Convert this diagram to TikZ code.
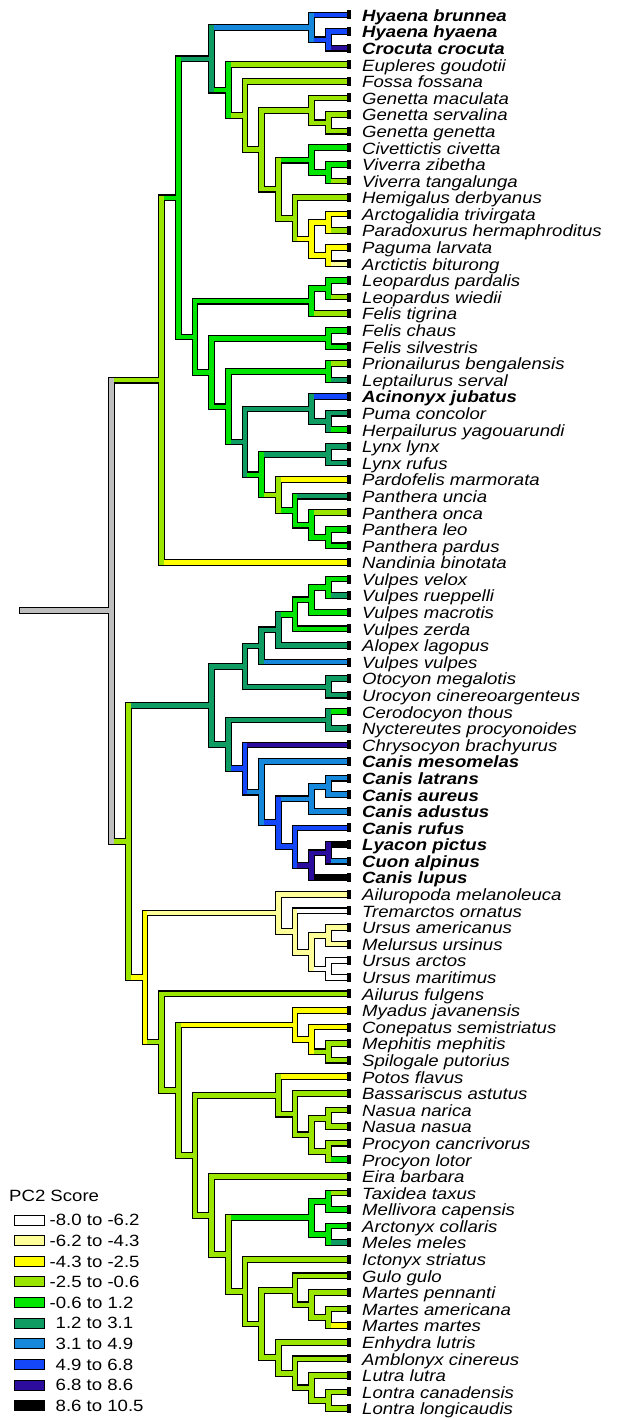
\documentclass[tikz,border=0pt]{standalone}
\usepackage{fontspec}
\setmainfont{Liberation Sans}
\usepackage{graphicx}
\usetikzlibrary{calc}
\definecolor{cW}{HTML}{FFFFFF}
\definecolor{cPY}{HTML}{FFFF99}
\definecolor{cY}{HTML}{FFFF00}
\definecolor{cYG}{HTML}{9AE600}
\definecolor{cG}{HTML}{00E600}
\definecolor{cDG}{HTML}{0E9C63}
\definecolor{cLB}{HTML}{1588DB}
\definecolor{cB}{HTML}{1446FA}
\definecolor{cDP}{HTML}{2C0C9C}
\definecolor{cK}{HTML}{000000}
\definecolor{cGR}{HTML}{BEBEBE}
\newcommand\nd[4]{\coordinate (lvl) at ({111.7+16.67*#2},0); \coordinate (#1m) at ($(#3)!0.5!(#4)$); \coordinate (#1) at (lvl |- #1m);}
\newcommand\E[6]{}
\newcommand\TreeList{%
\E{R}{F}{C}{cGR}{cYG}{cYG}
\E{F}{Fa}{t34}{cYG}{cG}{cY}
\E{Fa}{Fb}{Fel}{cG}{cDG}{cG}
\E{Fb}{Hy}{Vv}{cDG}{cLB}{cG}
\E{Hy}{t1}{Hy2}{cLB}{cB}{cB}
\E{Hy2}{t2}{t3}{cB}{cB}{cDP}
\E{Vv}{t4}{Vv2}{cG}{cYG}{cYG}
\E{Vv2}{t5}{Vv3}{cYG}{cYG}{cYG}
\E{Vv3}{Gen}{Vv4}{cYG}{cYG}{cYG}
\E{Gen}{t6}{Gen2}{cYG}{cYG}{cYG}
\E{Gen2}{t7}{t8}{cYG}{cYG}{cYG}
\E{Vv4}{Civ}{Par}{cYG}{cG}{cYG}
\E{Civ}{t9}{Civ2}{cG}{cG}{cG}
\E{Civ2}{t10}{t11}{cG}{cG}{cYG}
\E{Par}{t12}{Par2}{cYG}{cYG}{cY}
\E{Par2}{ParA}{ParB}{cY}{cY}{cY}
\E{ParA}{t13}{t14}{cY}{cY}{cYG}
\E{ParB}{t15}{t16}{cY}{cY}{cPY}
\E{Fel}{FelA}{Fel2}{cG}{cG}{cG}
\E{FelA}{Leo}{t19}{cG}{cG}{cYG}
\E{Leo}{t17}{t18}{cG}{cG}{cYG}
\E{Fel2}{FelC}{Fel4}{cG}{cG}{cG}
\E{FelC}{t20}{t21}{cG}{cG}{cG}
\E{Fel4}{Pri}{Fel5}{cG}{cG}{cDG}
\E{Pri}{t22}{t23}{cG}{cYG}{cDG}
\E{Fel5}{Aci}{Fel6}{cDG}{cDG}{cG}
\E{Aci}{t24}{Aci2}{cDG}{cB}{cDG}
\E{Aci2}{t25}{t26}{cDG}{cDG}{cG}
\E{Fel6}{Lyn}{Pan}{cG}{cDG}{cYG}
\E{Lyn}{t27}{t28}{cDG}{cDG}{cDG}
\E{Pan}{t29}{Pan2}{cYG}{cY}{cG}
\E{Pan2}{t30}{Pan3}{cG}{cDG}{cG}
\E{Pan3}{t31}{Pan4}{cG}{cYG}{cG}
\E{Pan4}{t32}{t33}{cG}{cG}{cG}
\E{C}{Can}{Arc}{cYG}{cDG}{cY}
\E{Can}{Can1}{Can5}{cDG}{cDG}{cDG}
\E{Can1}{Vul1}{Oto}{cDG}{cDG}{cDG}
\E{Vul1}{Vul2}{t40}{cDG}{cDG}{cLB}
\E{Vul2}{Vul3}{t39}{cDG}{cG}{cDG}
\E{Vul3}{Vul4}{t38}{cG}{cG}{cG}
\E{Vul4}{Vul5}{t37}{cG}{cG}{cG}
\E{Vul5}{t35}{t36}{cG}{cG}{cDG}
\E{Oto}{t41}{t42}{cDG}{cDG}{cDG}
\E{Can5}{Cer}{Can6}{cDG}{cDG}{cB}
\E{Cer}{t43}{t44}{cDG}{cG}{cDG}
\E{Can6}{t45}{Can7}{cB}{cDP}{cLB}
\E{Can7}{t46}{Can8}{cLB}{cLB}{cB}
\E{Can8}{Can9}{Can10}{cB}{cLB}{cB}
\E{Can9}{Can9a}{t49}{cLB}{cLB}{cLB}
\E{Can9a}{t47}{t48}{cLB}{cLB}{cLB}
\E{Can10}{t50}{Can11}{cB}{cB}{cDP}
\E{Can11}{Can12}{t53}{cDP}{cDP}{cK}
\E{Can12}{t51}{t52}{cDP}{cK}{cLB}
\E{Arc}{Urs}{Arc2}{cY}{cPY}{cYG}
\E{Urs}{t54}{Urs2}{cPY}{cPY}{cPY}
\E{Urs2}{t55}{Urs3}{cPY}{cW}{cPY}
\E{Urs3}{Urs4}{Urs5}{cPY}{cPY}{cW}
\E{Urs4}{t56}{t57}{cPY}{cPY}{cPY}
\E{Urs5}{t58}{t59}{cW}{cW}{cW}
\E{Arc2}{t60}{Arc3}{cYG}{cYG}{cYG}
\E{Arc3}{Mep}{Arc4}{cYG}{cY}{cYG}
\E{Mep}{t61}{Mep2}{cY}{cY}{cY}
\E{Mep2}{t62}{Mep3}{cY}{cY}{cYG}
\E{Mep3}{t63}{t64}{cYG}{cYG}{cYG}
\E{Arc4}{Pro}{Mus}{cYG}{cYG}{cYG}
\E{Pro}{t65}{Pro2}{cYG}{cY}{cYG}
\E{Pro2}{t66}{Pro3}{cYG}{cYG}{cYG}
\E{Pro3}{Pro4}{Pro5}{cYG}{cYG}{cYG}
\E{Pro4}{t67}{t68}{cYG}{cYG}{cYG}
\E{Pro5}{t69}{t70}{cYG}{cYG}{cG}
\E{Mus}{t71}{Mus2}{cYG}{cYG}{cYG}
\E{Mus2}{Bad}{Mus3}{cYG}{cG}{cYG}
\E{Bad}{Bad1}{Bad2}{cG}{cG}{cG}
\E{Bad1}{t72}{t73}{cG}{cYG}{cG}
\E{Bad2}{t74}{t75}{cG}{cG}{cDG}
\E{Mus3}{t76}{Mus4}{cYG}{cYG}{cYG}
\E{Mus4}{Mar}{Ott}{cYG}{cYG}{cYG}
\E{Mar}{t77}{Mar2}{cYG}{cYG}{cYG}
\E{Mar2}{t78}{Mar3}{cYG}{cYG}{cYG}
\E{Mar3}{t79}{t80}{cYG}{cYG}{cY}
\E{Ott}{t81}{Ott2}{cYG}{cYG}{cYG}
\E{Ott2}{t82}{Ott3}{cYG}{cYG}{cYG}
\E{Ott3}{t83}{Ott4}{cYG}{cYG}{cYG}
\E{Ott4}{t84}{t85}{cYG}{cYG}{cYG}
}
\tikzset{
  ol/.style={line width=6.8pt, black, line cap=rect},
  fl/.style={line width=4.6pt, line cap=rect},
  lab/.style={inner sep=0pt, font=\fontsize{16.3}{18}\selectfont},
  legbox/.style={draw=black, line width=1pt},
}
\begin{document}
\begin{tikzpicture}[x=1pt,y=-1pt]
\useasboundingbox[fill=white] (0,0) rectangle (618,1418);
% tips and labels
\foreach \i/\nm in {
1/{\bfseries Hyaena brunnea},2/{\bfseries Hyaena hyaena},3/{\bfseries Crocuta crocuta},
4/Eupleres goudotii,5/Fossa fossana,6/Genetta maculata,7/Genetta servalina,8/Genetta genetta,
9/Civettictis civetta,10/Viverra zibetha,11/Viverra tangalunga,12/Hemigalus derbyanus,
13/Arctogalidia trivirgata,14/Paradoxurus hermaphroditus,15/Paguma larvata,16/Arctictis biturong,
17/Leopardus pardalis,18/Leopardus wiedii,19/Felis tigrina,20/Felis chaus,21/Felis silvestris,
22/Prionailurus bengalensis,23/Leptailurus serval,24/{\bfseries Acinonyx jubatus},25/Puma concolor,
26/Herpailurus yagouarundi,27/Lynx lynx,28/Lynx rufus,29/Pardofelis marmorata,30/Panthera uncia,
31/Panthera onca,32/Panthera leo,33/Panthera pardus,34/Nandinia binotata,35/Vulpes velox,
36/Vulpes rueppelli,37/Vulpes macrotis,38/Vulpes zerda,39/Alopex lagopus,40/Vulpes vulpes,
41/Otocyon megalotis,42/Urocyon cinereoargenteus,43/Cerodocyon thous,44/Nyctereutes procyonoides,
45/Chrysocyon brachyurus,46/{\bfseries Canis mesomelas},47/{\bfseries Canis latrans},48/{\bfseries Canis aureus},
49/{\bfseries Canis adustus},50/{\bfseries Canis rufus},51/{\bfseries Lyacon pictus},52/{\bfseries Cuon alpinus},
53/{\bfseries Canis lupus},54/Ailuropoda melanoleuca,55/Tremarctos ornatus,56/Ursus americanus,
57/Melursus ursinus,58/Ursus arctos,59/Ursus maritimus,60/Ailurus fulgens,61/Myadus javanensis,
62/Conepatus semistriatus,63/Mephitis mephitis,64/Spilogale putorius,65/Potos flavus,
66/Bassariscus astutus,67/Nasua narica,68/Nasua nasua,69/Procyon cancrivorus,70/Procyon lotor,
71/Eira barbara,72/Taxidea taxus,73/Mellivora capensis,74/Arctonyx collaris,75/Meles meles,
76/Ictonyx striatus,77/Gulo gulo,78/Martes pennanti,79/Martes americana,80/Martes martes,
81/Enhydra lutris,82/Amblonyx cinereus,83/Lutra lutra,84/Lontra canadensis,85/Lontra longicaudis}{
  \coordinate (t\i) at (345,{15+(\i-1)*16.59});
  \node[lab, anchor=base west] (L\i) at ($(t\i)+(17,6.3)$) {\scalebox{1.14}[1]{\itshape\nm}};
}
% internal nodes
\nd{Hy2}{13}{t2}{t3}
\nd{Hy}{12}{t1}{Hy2}
\nd{Gen2}{13}{t7}{t8}
\nd{Gen}{12}{t6}{Gen2}
\nd{Civ2}{13}{t10}{t11}
\nd{Civ}{12}{t9}{Civ2}
\nd{ParA}{13}{t13}{t14}
\nd{ParB}{13}{t15}{t16}
\nd{Par2}{12}{ParA}{ParB}
\nd{Par}{11}{t12}{Par2}
\nd{Vv4}{10}{Civ}{Par}
\nd{Vv3}{9}{Gen}{Vv4}
\nd{Vv2}{8}{t5}{Vv3}
\nd{Vv}{7}{t4}{Vv2}
\nd{Fb}{6}{Hy}{Vv}
\nd{Leo}{13}{t17}{t18}
\nd{FelA}{12}{Leo}{t19}
\nd{FelC}{13}{t20}{t21}
\nd{Pri}{13}{t22}{t23}
\nd{Aci2}{13}{t25}{t26}
\nd{Aci}{12}{t24}{Aci2}
\nd{Lyn}{13}{t27}{t28}
\nd{Pan4}{13}{t32}{t33}
\nd{Pan3}{12}{t31}{Pan4}
\nd{Pan2}{11}{t30}{Pan3}
\nd{Pan}{10}{t29}{Pan2}
\nd{Fel6}{9}{Lyn}{Pan}
\nd{Fel5}{8}{Aci}{Fel6}
\nd{Fel4}{7}{Pri}{Fel5}
\nd{Fel2}{6}{FelC}{Fel4}
\nd{Fel}{5}{FelA}{Fel2}
\nd{Fa}{4}{Fb}{Fel}
\nd{F}{3}{Fa}{t34}
\nd{Vul5}{13}{t35}{t36}
\nd{Vul4}{12}{Vul5}{t37}
\nd{Vul3}{11}{Vul4}{t38}
\nd{Vul2}{10}{Vul3}{t39}
\nd{Vul1}{9}{Vul2}{t40}
\nd{Oto}{13}{t41}{t42}
\nd{Can1}{8}{Vul1}{Oto}
\nd{Cer}{13}{t43}{t44}
\nd{Can9a}{13}{t47}{t48}
\nd{Can9}{12}{Can9a}{t49}
\nd{Can12}{13}{t51}{t52}
\nd{Can11}{12}{Can12}{t53}
\nd{Can10}{11}{t50}{Can11}
\nd{Can8}{10}{Can9}{Can10}
\nd{Can7}{9}{t46}{Can8}
\nd{Can6}{8}{t45}{Can7}
\nd{Can5}{7}{Cer}{Can6}
\nd{Can}{6}{Can1}{Can5}
\nd{Urs4}{13}{t56}{t57}
\nd{Urs5}{13}{t58}{t59}
\nd{Urs3}{12}{Urs4}{Urs5}
\nd{Urs2}{11}{t55}{Urs3}
\nd{Urs}{10}{t54}{Urs2}
\nd{Mep3}{13}{t63}{t64}
\nd{Mep2}{12}{t62}{Mep3}
\nd{Mep}{11}{t61}{Mep2}
\nd{Pro4}{13}{t67}{t68}
\nd{Pro5}{13}{t69}{t70}
\nd{Pro3}{12}{Pro4}{Pro5}
\nd{Pro2}{11}{t66}{Pro3}
\nd{Pro}{10}{t65}{Pro2}
\nd{Bad1}{13}{t72}{t73}
\nd{Bad2}{13}{t74}{t75}
\nd{Bad}{12}{Bad1}{Bad2}
\nd{Mar3}{13}{t79}{t80}
\nd{Mar2}{12}{t78}{Mar3}
\nd{Mar}{11}{t77}{Mar2}
\nd{Ott4}{13}{t84}{t85}
\nd{Ott3}{12}{t83}{Ott4}
\nd{Ott2}{11}{t82}{Ott3}
\nd{Ott}{10}{t81}{Ott2}
\nd{Mus4}{9}{Mar}{Ott}
\nd{Mus3}{8}{t76}{Mus4}
\nd{Mus2}{7}{Bad}{Mus3}
\nd{Mus}{6}{t71}{Mus2}
\nd{Arc4}{5}{Pro}{Mus}
\nd{Arc3}{4}{Mep}{Arc4}
\nd{Arc2}{3}{t60}{Arc3}
\nd{Arc}{2}{Urs}{Arc2}
\nd{C}{1}{Can}{Arc}
\nd{R}{0}{F}{C}
\path (R) ++(-89.7,0) coordinate (R0);
% pass 1: outlines
\draw[ol] (R0) -- (R);
\renewcommand\E[6]{\draw[ol] (#1 |- #2) -- (#2); \draw[ol] (#1 |- #3) -- (#3); \draw[ol] (#1 |- #2) -- (#1 |- #3);}
\TreeList
% pass 2: coloured horizontals
\draw[fl, color=cGR] (R0) -- (R);
\renewcommand\E[6]{\draw[fl, color=#5] (#1 |- #2) -- (#2); \draw[fl, color=#6] (#1 |- #3) -- (#3);}
\TreeList
% pass 3: coloured verticals
\renewcommand\E[6]{\draw[fl, color=#4] (#1 |- #2) -- (#1 |- #3);}
\TreeList
% tip caps
\foreach \i in {1,...,85}{
  \fill[black] ($(t\i)+(2,-4.5)$) rectangle ($(t\i)+(5.5,4.5)$);
}
% legend
\node[lab, anchor=base west] (legtitle) at (9,1201) {\scalebox{1.14}[1]{PC2 Score}};
\foreach \i/\c/\t in {0/cW/{-8.0 to -6.2},1/cPY/{-6.2 to -4.3},2/cY/{-4.3 to -2.5},3/cYG/{-2.5 to -0.6},
  4/cG/{-0.6 to 1.2},5/cDG/{\hspace{5.3pt}1.2 to 3.1},6/cLB/{\hspace{5.3pt}3.1 to 4.9},7/cB/{\hspace{5.3pt}4.9 to 6.8},
  8/cDP/{\hspace{5.3pt}6.8 to 8.6},9/cK/{\hspace{5.3pt}8.6 to 10.5}}{
  \draw[legbox, fill=\c] (14.5,{1215+20.63*\i}) rectangle (44,{1225+20.63*\i});
  \node[lab, anchor=base west] (lg\i) at (49.5,{1225.8+20.63*\i}) {\scalebox{1.14}[1]{\t}};
}
\end{tikzpicture}
\end{document}
